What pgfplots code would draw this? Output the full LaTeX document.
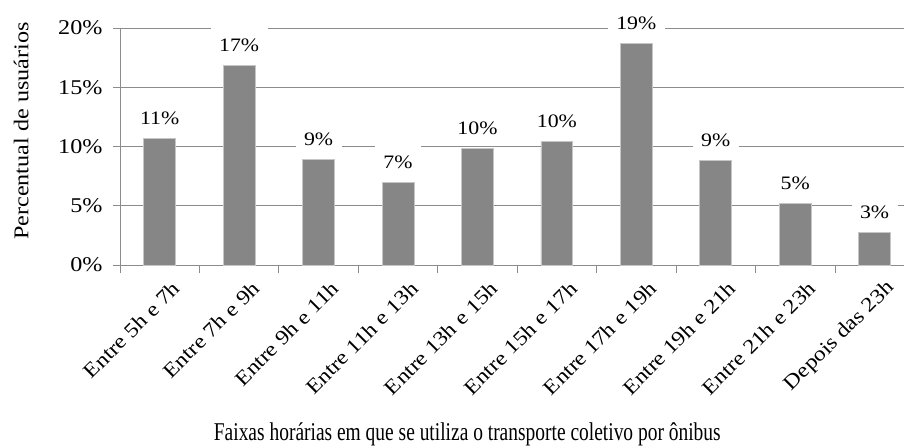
\documentclass[border=0pt]{standalone}
\usepackage{fontspec}
\setmainfont{Liberation Serif}[FakeStretch=1.15]
\newfontfamily\condfont{Liberation Serif}[FakeStretch=0.76]
\usepackage{pgfplots}
\pgfplotsset{compat=1.18}
\definecolor{barfill}{RGB}{134,134,134}
\definecolor{gridc}{RGB}{140,140,140}
\begin{document}
\begin{tikzpicture}[font=\fontsize{19}{22}\selectfont]
\useasboundingbox (-120pt,-180pt) rectangle (784pt,265pt);
\begin{axis}[
  scale only axis,
  width=784pt, height=237pt,
  xmin=-0.5, xmax=9.37,
  ymin=0, ymax=20,
  ytick={0,5,10,15,20},
  yticklabel={\pgfmathprintnumber{\tick}\%},
  /pgf/number format/assume math mode=true,
  ymajorgrids,
  grid style={gridc, line width=0.8pt},
  axis x line*=bottom, axis y line*=left,
  axis line style={gridc, line width=0.8pt},
  tick align=outside,
  major tick length=7pt,
  minor tick length=8pt,
  xtick={0,...,9},
  xticklabels={Entre 5h e 7h,Entre 7h e 9h,Entre 9h e 11h,Entre 11h e 13h,Entre 13h e 15h,Entre 15h e 17h,Entre 17h e 19h,Entre 19h e 21h,Entre 21h e 23h,Depois das 23h},
  minor xtick={-0.5,0.5,...,8.5},
  major x tick style={draw=none},
  minor x tick style={gridc, line width=0.8pt},
  ytick style={gridc, line width=0.8pt},
  xticklabel style={font=\fontsize{20.5}{24}\selectfont, rotate=45, anchor=east, xshift=6pt, yshift=-21pt},
  yticklabel style={font=\fontsize{21}{24}\selectfont, xshift=-7pt},
  xlabel={Faixas horárias em que se utiliza o transporte coletivo por ônibus},
  xlabel style={font=\condfont\fontsize{25.6}{28}\selectfont, at={(axis description cs:0.443,-0.742)}, anchor=base},
  ylabel={Percentual de usuários},
  ylabel style={font=\fontsize{21}{24}\selectfont, at={(axis description cs:-0.126,0.565)}, anchor=center, rotate=0},
  nodes near coords={\pgfmathprintnumber[fixed,precision=0]{\pgfplotspointmeta}\%},
  nodes near coords style={font=\fontsize{19}{22}\selectfont, fill=white, inner xsep=8.5pt, inner ysep=2pt, text height=24pt, text depth=2pt, anchor=base, yshift=14pt, text=black},
]
\addplot[ybar, bar width=0.4, fill=barfill, draw=gray!45, line width=0.8pt] coordinates {
 (0,10.68) (1,16.83) (2,8.92) (3,7.0) (4,9.8) (5,10.39) (6,18.7) (7,8.84) (8,5.2) (9,2.76)
};
\end{axis}
\end{tikzpicture}
\end{document}
